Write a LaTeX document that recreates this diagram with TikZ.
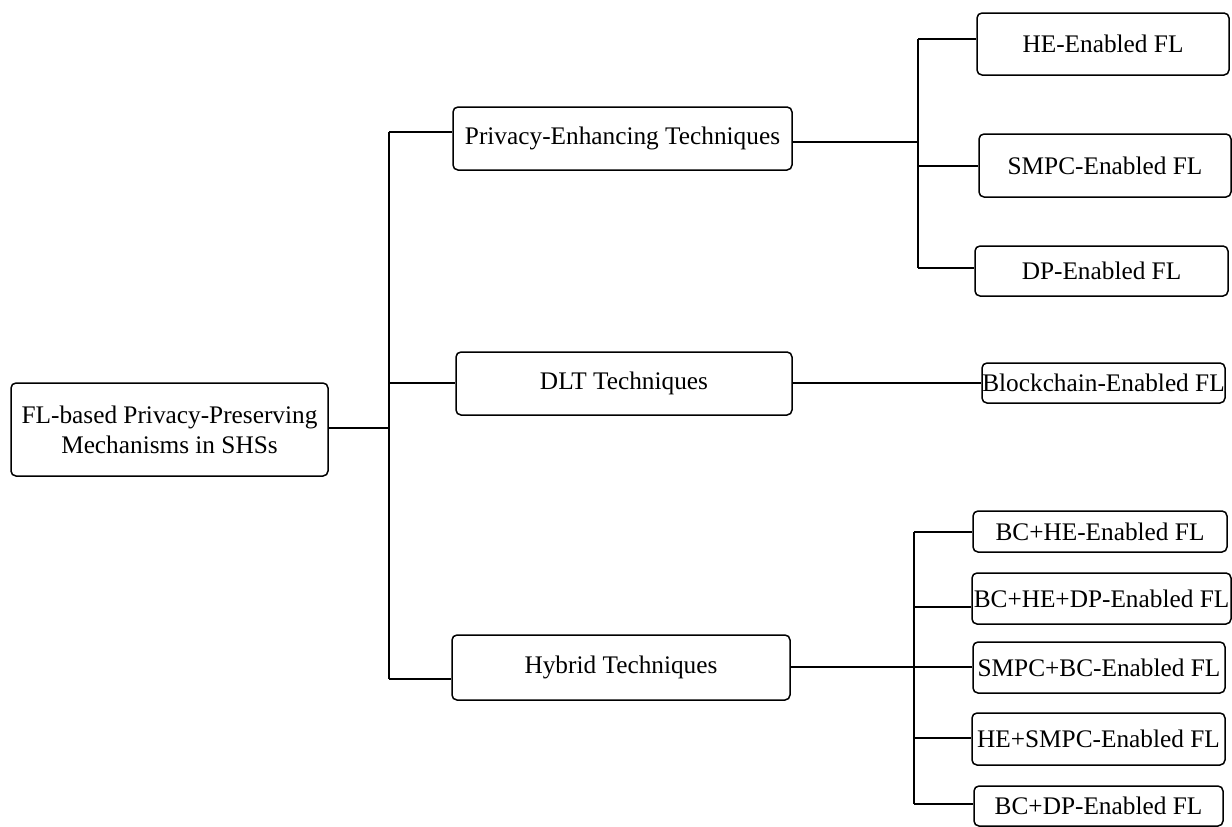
\documentclass[tikz,border=0pt]{standalone}
\usepackage{fontspec}
\setmainfont{Liberation Serif}
\begin{document}
\begin{tikzpicture}[x=1pt,y=-1pt,
  box/.style={draw, line width=1.5pt, rounded corners=5pt, inner sep=0pt, align=center, font=\fontsize{25.3}{30}\selectfont},
  link/.style={line width=1.5pt}]
\useasboundingbox (0,0) rectangle (1232,827);
% nodes
\node[box,minimum width=317pt,minimum height=93pt] (root) at (169.5,429.5) {FL-based Privacy-Preserving\\Mechanisms in SHSs};
\node[box,minimum width=339pt,minimum height=63pt] (pet) at (622.5,138.5) {Privacy-Enhancing Techniques};
\node[box,minimum width=336pt,minimum height=63pt] (dlt) at (624,383.5) {DLT Techniques};
\node[box,minimum width=338pt,minimum height=65pt] (hyb) at (621,667.5) {Hybrid Techniques};
\node[box,minimum width=252pt,minimum height=62pt] (he) at (1103,44) {HE-Enabled FL};
\node[box,minimum width=252pt,minimum height=63pt] (smpc) at (1105,165.5) {SMPC-Enabled FL};
\node[box,minimum width=253pt,minimum height=50pt] (dp) at (1101.5,271) {DP-Enabled FL};
\node[box,minimum width=243pt,minimum height=40pt] (bcfl) at (1103.5,383) {Blockchain-Enabled FL};
\node[box,minimum width=254pt,minimum height=41pt] (bche) at (1100,531.5) {BC+HE-Enabled FL};
\node[box,minimum width=259pt,minimum height=51pt] (bchedp) at (1101.5,598.5) {BC+HE+DP-Enabled FL};
\node[box,minimum width=252pt,minimum height=51pt] (smpcbc) at (1099,667.5) {SMPC+BC-Enabled FL};
\node[box,minimum width=253pt,minimum height=52pt] (hesmpc) at (1098.5,739) {HE+SMPC-Enabled FL};
\node[box,minimum width=249pt,minimum height=40pt] (bcdp) at (1098.5,806) {BC+DP-Enabled FL};
% trunk
\coordinate (tR) at (389,428);
\coordinate (tP) at (389,132);
\coordinate (tD) at (389,383);
\coordinate (tH) at (389,679);
\draw[link] (tP) -- (tH);
\draw[link] (tR -| root.east) -- (tR);
\draw[link] (tP) -- (tP -| pet.west);
\draw[link] (tD) -- (tD -| dlt.west);
\draw[link] (tH) -- (tH -| hyb.west);
% privacy-enhancing branch
\coordinate (v1P) at (918,142);
\coordinate (v1a) at (918,39);
\coordinate (v1b) at (918,166);
\coordinate (v1c) at (918,268);
\draw[link] (v1P -| pet.east) -- (v1P);
\draw[link] (v1a) -- (v1c);
\draw[link] (v1a) -- (v1a -| he.west);
\draw[link] (v1b) -- (v1b -| smpc.west);
\draw[link] (v1c) -- (v1c -| dp.west);
% DLT branch
\draw[link] (tD -| dlt.east) -- (tD -| bcfl.west);
% hybrid branch
\coordinate (v2a) at (914,532);
\coordinate (v2b) at (914,607);
\coordinate (v2c) at (914,667);
\coordinate (v2d) at (914,738);
\coordinate (v2e) at (914,804);
\draw[link] (v2c -| hyb.east) -- (v2c);
\draw[link] (v2a) -- (v2e);
\draw[link] (v2a) -- (v2a -| bche.west);
\draw[link] (v2b) -- (v2b -| bchedp.west);
\draw[link] (v2c) -- (v2c -| smpcbc.west);
\draw[link] (v2d) -- (v2d -| hesmpc.west);
\draw[link] (v2e) -- (v2e -| bcdp.west);
\end{tikzpicture}
\end{document}
